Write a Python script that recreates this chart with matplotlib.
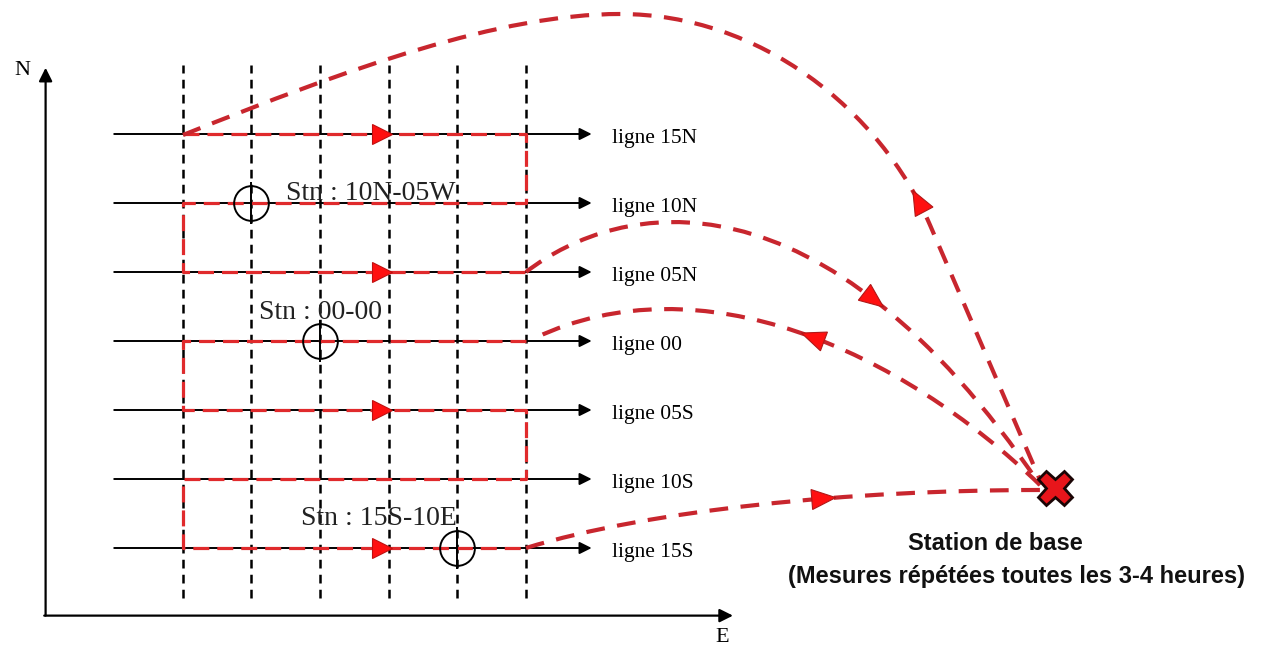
import numpy as np
import matplotlib.pyplot as plt
from matplotlib.path import Path
from matplotlib.patches import PathPatch, Polygon

# grille de mesure (coordonnees en m)
lignes = ['ligne 15N', 'ligne 10N', 'ligne 05N', 'ligne 00', 'ligne 05S', 'ligne 10S', 'ligne 15S']
nord = [15, 10, 5, 0, -5, -10, -15]
est = [-10, -5, 0, 5, 10, 15]
stations = ['10N-05W', '00-00', '15S-10E']
stn_e = [-5, 0, 10]
stn_n = [10, 0, -15]
# position des etiquettes "Stn" (est, nord)
lab_e = [3.7, 0.0, 4.3]
lab_n = [10.2, 1.6, -13.3]
groupe1 = [15, 10, 5]
groupe2 = [0, -5, -10, -15]

RED = '#e02a2c'
CURVE = '#c8262e'
serif = 'Liberation Serif'

fig = plt.figure(figsize=(12.64, 6.48), dpi=100)
ax = fig.add_axes([0, 0, 1, 1])
ax.set_xlim(-320 / 13.72, (1264 - 320) / 13.72)
ax.set_ylim((341 - 648) / 13.8, 341 / 13.8)
ax.axis('off')

# axes N / E
ax.annotate('', xy=(-20, 19.8), xytext=(-20, -19.9),
            arrowprops=dict(arrowstyle='-|>', lw=1.6, color='k', mutation_scale=20, shrinkA=0, shrinkB=0))
ax.annotate('', xy=(30.1, -19.9), xytext=(-20.1, -19.9),
            arrowprops=dict(arrowstyle='-|>', lw=1.6, color='k', mutation_scale=20, shrinkA=0, shrinkB=0))
ax.text(-21.7, 19.6, 'N', family=serif, fontsize=16, ha='center', va='center')
ax.text(29.3, -21.45, 'E', family=serif, fontsize=16, ha='center', va='center')

# profils verticaux en pointille
ax.vlines(est, -18.6, 20, colors='k', linestyles=(0, (3.5, 2.5)), lw=1.8, zorder=2)

# lignes de mesure
for lab, n in zip(lignes, nord):
    ax.annotate('', xy=(19.8, n), xytext=(-15, n),
                arrowprops=dict(arrowstyle='-|>', lw=1.4, color='k', mutation_scale=18, shrinkA=0, shrinkB=0),
                zorder=3)
    ax.text(21.3, n - 0.3, lab, family=serif, fontsize=15.5, ha='left', va='center')

# parcours en serpentin
def serpentin(rows, vers_est):
    pts = []
    for n in rows:
        if vers_est:
            pts += [(min(est), n), (max(est), n)]
        else:
            pts += [(max(est), n), (min(est), n)]
        vers_est = not vers_est
    return np.array(pts)

for rows, start in [(groupe1, True), (groupe2, False)]:
    p = serpentin(rows, start)
    ax.plot(p[:, 0], p[:, 1], color=RED, lw=2.3, dashes=(5, 2.5), zorder=4)
    sens = start
    for n in rows:
        if sens:
            ax.plot(4.5, n, marker='>', ms=14, color='#ff1010', mec='#c01010', mew=0.8, zorder=6)
        sens = not sens

# stations
ax.plot(stn_e, stn_n, 'o', ms=25, mfc='none', mec='k', mew=1.4, zorder=5)
ax.plot(stn_e, stn_n, '|', ms=30, mec='k', mew=1.4, zorder=5)
for s, x, y in zip(stations, lab_e, lab_n):
    ax.text(x, y, 'Stn : ' + s, family=serif, fontsize=20, ha='center', va='baseline',
            color='#222222', zorder=7)

# liaisons avec la station de base (coordonnees image)
deco = fig.add_axes([0, 0, 1, 1])
deco.set_xlim(0, 1264)
deco.set_ylim(648, 0)
deco.axis('off')
deco.patch.set_alpha(0)

def cubic(p, t):
    p = np.asarray(p, float)
    pt = (1 - t) ** 3 * p[0] + 3 * (1 - t) ** 2 * t * p[1] + 3 * (1 - t) * t ** 2 * p[2] + t ** 3 * p[3]
    d = 3 * (1 - t) ** 2 * (p[1] - p[0]) + 6 * (1 - t) * t * (p[2] - p[1]) + 3 * t ** 2 * (p[3] - p[2])
    return pt, d / np.linalg.norm(d)

def fleche(pt, u, length=24, width=20):
    n = np.array([-u[1], u[0]])
    tip = pt + u * length / 2
    base = pt - u * length / 2
    deco.add_patch(Polygon([tip, base + n * width / 2, base - n * width / 2], closed=True,
                           fc='#ff1010', ec='#b01818', lw=0.8, zorder=6))

courbeA = [(526, 272), (620, 200), (820, 160), (1040, 485)]
courbeB = [(1040, 485), (900, 350), (700, 260), (535, 338)]
courbeC = [(526, 548), (650, 510), (850, 490), (1040, 490)]
courbeD1 = [(183, 135), (350, 68), (500, 14), (620, 14)]
courbeD2 = [(620, 14), (760, 14), (880, 110), (930, 225)]

for c in [courbeA, courbeB, courbeC]:
    path = Path(c, [Path.MOVETO, Path.CURVE4, Path.CURVE4, Path.CURVE4])
    deco.add_patch(PathPatch(path, fc='none', ec=CURVE, lw=3, ls=(0, (4.5, 3)), zorder=4))
path = Path(courbeD1 + courbeD2[1:] + [(1040, 480)],
            [Path.MOVETO] + [Path.CURVE4] * 6 + [Path.LINETO])
deco.add_patch(PathPatch(path, fc='none', ec=CURVE, lw=3, ls=(0, (4.5, 3)), zorder=4))

pt, u = cubic(courbeA, 0.74)
fleche(pt, u)
pt, u = cubic(courbeB, 0.47)
fleche(pt, u)
pt, u = cubic(courbeC, 0.62)
fleche(pt, u)
pt, u = cubic(courbeD2, 0.93)
fleche(pt, -u)

# station de base
deco.plot(1055, 488, marker='X', ms=25, mfc='#e8151b', mec='#1a0505', mew=2, zorder=8)
deco.text(995, 543, 'Station de base', family='Liberation Sans', weight='bold',
          fontsize=17, ha='center', va='center', color='#111111')
deco.text(1017, 577, '(Mesures répétées toutes les 3-4 heures)', family='Liberation Sans',
          weight='bold', fontsize=17, ha='center', va='center', color='#111111')

plt.savefig('out.png', dpi=100)
